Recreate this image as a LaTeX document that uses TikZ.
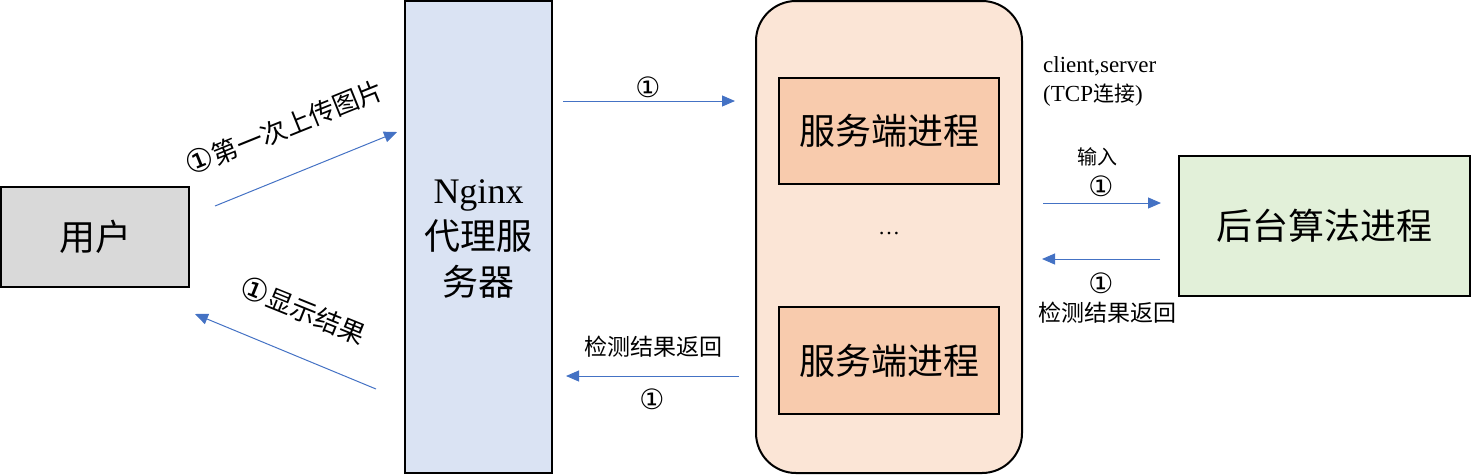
\documentclass[tikz,border=0pt]{standalone}
\usepackage{fontspec}
\setmainfont{Liberation Serif}
\newfontfamily\cjk{Noto Sans CJK SC}
\newfontfamily\symf{DejaVu Sans}
\usetikzlibrary{arrows.meta}
\definecolor{usergray}{HTML}{D9D9D9}
\definecolor{nginxblue}{HTML}{DAE3F3}
\definecolor{outerpeach}{HTML}{FBE5D6}
\definecolor{innerpeach}{HTML}{F8CBAD}
\definecolor{algogreen}{HTML}{E2F0D9}
\definecolor{arrowblue}{HTML}{4472C4}
\newcommand{\cone}{{\symf\fontsize{28}{30}\selectfont ①}}
\newcommand{\conebig}{{\symf\fontsize{32}{34}\selectfont ①}}
\tikzset{
  box/.style={draw=black, line width=2pt, inner sep=0pt},
  flow/.style={draw=arrowblue, line width=1pt, -{Triangle[length=13pt,width=11pt]}},
  lbl/.style={font=\cjk\fontsize{20}{24}\selectfont, inner sep=0pt},
  lblw/.style={font=\cjk\fontsize{23}{26}\selectfont, inner sep=0pt},
  big/.style={font=\cjk\fontsize{36}{46}\selectfont},
}
\begin{document}
\begin{tikzpicture}[x=1pt,y=-1pt]
\useasboundingbox (0,0) rectangle (1471,475);
% boxes
\node[box, fill=usergray, minimum width=188pt, minimum height=100pt, big] (user) at (95,237) {用户};
\node[box, fill=nginxblue, minimum width=147pt, minimum height=472pt] (nginx) at (478.5,237) {};
\node[big, align=center, text width=130pt] (nginxtxt) at (478.5,239) {{\rmfamily Nginx}\\代理服\\务器};
\node[box, fill=outerpeach, rounded corners=40pt, minimum width=266pt, minimum height=472pt] (outer) at (889,237) {};
\node[box, fill=innerpeach, minimum width=220pt, minimum height=106pt, big] (srv1) at (889,131) {服务端进程};
\node[font=\fontsize{22}{26}\selectfont] (dots) at (889,234) {\dots};
\node[box, fill=innerpeach, minimum width=220pt, minimum height=107pt, big] (srv2) at (889,360.5) {服务端进程};
\node[box, fill=algogreen, minimum width=291pt, minimum height=140pt, big] (algo) at (1324.5,226) {后台算法进程};
% connector end points
\coordinate (a1s) at (215,206); \coordinate (a1e) at (397,132);
\coordinate (a2s) at (376,389); \coordinate (a2e) at (195,314);
\coordinate (a3s) at (563,101); \coordinate (a3e) at (735,101);
\coordinate (a4s) at (739,376); \coordinate (a4e) at (566,376);
\coordinate (a5s) at (1043,203); \coordinate (a5e) at (1161,203);
\coordinate (a6s) at (1160,259); \coordinate (a6e) at (1042,259);
\draw[flow] (a1s) -- (a1e);
\draw[flow] (a2s) -- (a2e);
\draw[flow] (a3s) -- (a3e);
\draw[flow] (a4s) -- (a4e);
\draw[flow] (a5s) -- (a5e);
\draw[flow] (a6s) -- (a6e);
% labels
\node[lbl, rotate=22, font=\cjk\fontsize{26}{28}\selectfont] (l1) at (284,127) {\conebig 第一次上传图片};
\node[lbl, rotate=-22, font=\cjk\fontsize{26}{28}\selectfont] (l2) at (303,310) {\conebig 显示结果};
\node[lbl] (l3) at (648,87) {\cone};
\node[lblw] (l4a) at (653,347) {检测结果返回};
\node[lbl] (l4b) at (652,399) {\cone};
\node[inner sep=0pt, font=\fontsize{23}{29}\selectfont, align=left, anchor=north west] (tcp) at (1043,56) {client,server\\(TCP{\cjk\fontsize{21}{29}\selectfont 连接})};
\node[lbl] (l5a) at (1097,157) {输入};
\node[lbl] (l5b) at (1101,186) {\cone};
\node[lbl] (l6a) at (1101,283) {\cone};
\node[lblw] (l6b) at (1107,313) {检测结果返回};
\end{tikzpicture}
\end{document}
